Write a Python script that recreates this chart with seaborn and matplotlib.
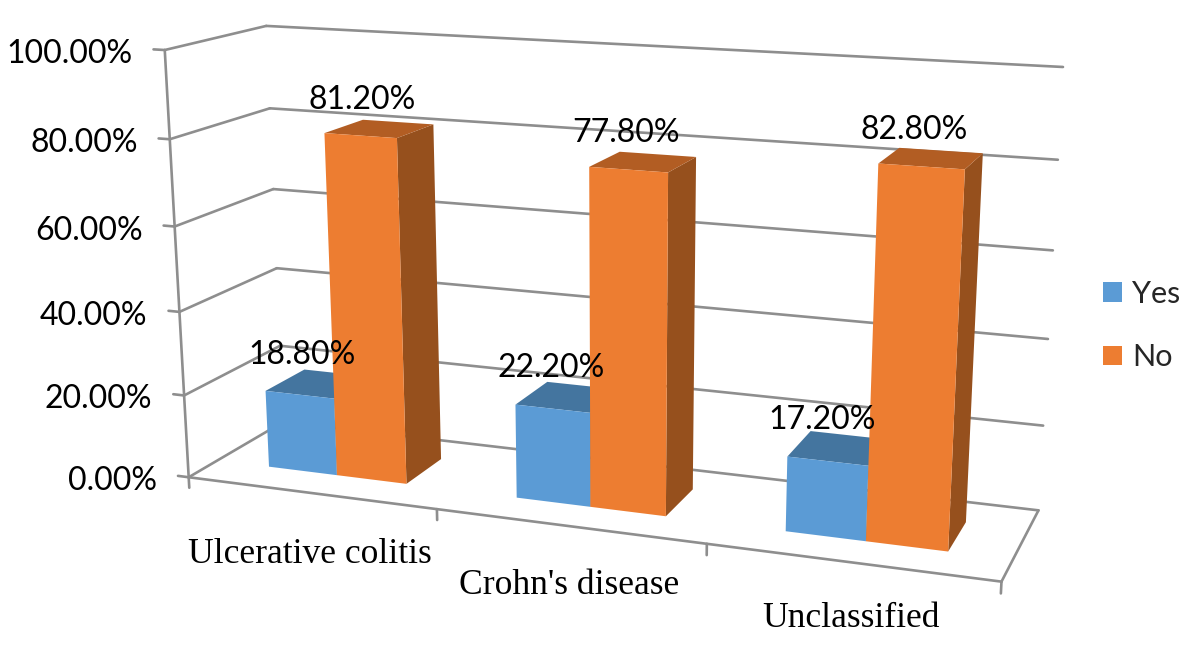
import numpy as np
import pandas as pd
import matplotlib
matplotlib.use("Agg")
import matplotlib.pyplot as plt
from matplotlib.patches import Polygon
from matplotlib.transforms import Transform
import seaborn as sns

# ---- data ----
categories = ["Ulcerative colitis", "Crohn's disease", "Unclassified"]
yes_values = [18.8, 22.2, 17.2]
no_values = [81.2, 77.8, 82.8]
series_names = ["Yes", "No"]
value_ticks = [0, 20, 40, 60, 80, 100]

# ---- style / camera calibration: (x, depth, value) -> screen pixel ----
FRONT_COL = {"Yes": "#5B9BD5", "No": "#ED7D31"}
TOP_COL = {"Yes": "#44759F", "No": "#B25D23"}
SIDE_COL = {"Yes": "#3B6A94", "No": "#96501D"}
GRID = "#8E8E8E"
calib = [
    ((-0.5, 0, 0), (188, 476)), ((2.5, 0, 0), (1002, 582)),
    ((2.5, 1, 0), (1038, 510)), ((-0.5, 1, 0), (284, 423)),
    ((-0.5, 0, 100), (165, 51)), ((-0.5, 1, 100), (266, 25)),
    ((2.5, 1, 100), (1063, 67)),
]
Z0, Z1 = 0.29, 0.71
BAR_W = 0.565

A, b = [], []
for (X, Z, Y), (u, v) in calib:
    A.append([X, Z, Y, 1, 0, 0, 0, 0, -u * X, -u * Z, -u * Y]); b.append(u)
    A.append([0, 0, 0, 0, X, Z, Y, 1, -v * X, -v * Z, -v * Y]); b.append(v)
sol = np.linalg.lstsq(np.array(A, float), np.array(b, float), rcond=None)[0]
P = np.append(sol, 1.0).reshape(3, 4)


def project(x, z, y):
    h = P @ np.array([x, z, y, 1.0])
    return h[0] / h[2], h[1] / h[2]


class Face(Transform):
    """Maps (category position, value) on the plane of constant depth z to pixels."""
    input_dims = 2
    output_dims = 2
    is_separable = False
    has_inverse = False

    def __init__(self, z):
        super().__init__()
        self.z = z

    def transform_non_affine(self, values):
        values = np.asarray(values, float)
        h = np.column_stack([values[:, 0], np.full(len(values), self.z),
                             values[:, 1], np.ones(len(values))]) @ P.T
        return h[:, :2] / h[:, 2:3]


sns.set_theme(style="white")
plt.rcParams["font.family"] = ["Lato", "DejaVu Sans"]

df = pd.DataFrame({
    "Disease": categories * 2,
    "Response": [series_names[0]] * 3 + [series_names[1]] * 3,
    "Percent": yes_values + no_values,
})

fig = plt.figure(figsize=(12, 6.53), dpi=100)
ax = fig.add_axes([0, 0, 1, 1])
sns.barplot(data=df, x="Disease", y="Percent", hue="Response", palette=FRONT_COL,
            width=BAR_W, gap=0, saturation=1, ax=ax, linewidth=0)

LW = 1.9


def seg(p, q, z=1):
    ax.plot(*zip(project(*p), project(*q)), color=GRID, lw=LW, zorder=z,
            solid_capstyle="round", solid_joinstyle="round")


# walls, floor and ticks
xl, xr = -0.5, 2.5
for v in value_ticks:
    seg((xl, 0, v), (xl, 1, v))
    seg((xl, 1, v), (xr, 1, v))
    seg((xl - 0.045, 0, v), (xl, 0, v))
    sx, sy = project(xl, 0, v)
    ax.text(sx - 32, sy + 4, f"{v:.2f}%", ha="right", va="center", fontsize=23,
            color="black")
seg((xl, 0, 0), (xl, 0, 100))
seg((xl, 0, 0), (xr, 0, 0), z=1.5)
seg((xr, 0, 0), (xr, 1, 0), z=1.5)
for x in [xl, 0.5, 1.5, xr]:
    seg((x, 0, 0), (x, 0, -2.6))

# bars: seaborn rectangles become the front faces; top and side come from the same extents
for s, (name, cont) in enumerate(zip(series_names, ax.containers)):
    for bar in cont:
        x0, x1 = bar.get_x(), bar.get_x() + bar.get_width()
        val = bar.get_height()
        base = 2 + s
        bar.set_transform(Face(Z0) + ax.transData)
        bar.set_zorder(base + 0.3)
        bar.set_clip_on(False)
        top = [project(x0, Z0, val), project(x1, Z0, val), project(x1, Z1, val), project(x0, Z1, val)]
        side = [project(x1, Z0, 0), project(x1, Z1, 0), project(x1, Z1, val), project(x1, Z0, val)]
        ax.add_patch(Polygon(side, closed=True, fc=SIDE_COL[name], ec="none", zorder=base + 0.1))
        ax.add_patch(Polygon(top, closed=True, fc=TOP_COL[name], ec="none", zorder=base + 0.2))
        cx, cy = project((x0 + x1) / 2, (Z0 + Z1) / 2, val)
        ax.text(cx - 17, cy - 28.5, f"{val:.2f}%", ha="center", va="center", fontsize=23,
                color="black", zorder=10)

# category labels
for i, (name, dy) in enumerate(zip(categories, [62, 59, 56])):
    sx, sy = project(i, 0, 0)
    ax.text(sx, sy + dy, name, ha="center", va="center", fontsize=25.6,
            family="Liberation Serif", color="black", zorder=10)

sns.move_legend(ax, "center left", bbox_to_anchor=(1103, 325.5), bbox_transform=ax.transData,
                title=None, frameon=False, fontsize=22, handlelength=0.62, handleheight=0.6,
                handletextpad=0.34, labelspacing=1.17, borderpad=0, borderaxespad=0)

ax.set_xlim(0, 1200)
ax.set_ylim(653, 0)
ax.axis("off")
fig.savefig("out.png", dpi=100, facecolor="white")
